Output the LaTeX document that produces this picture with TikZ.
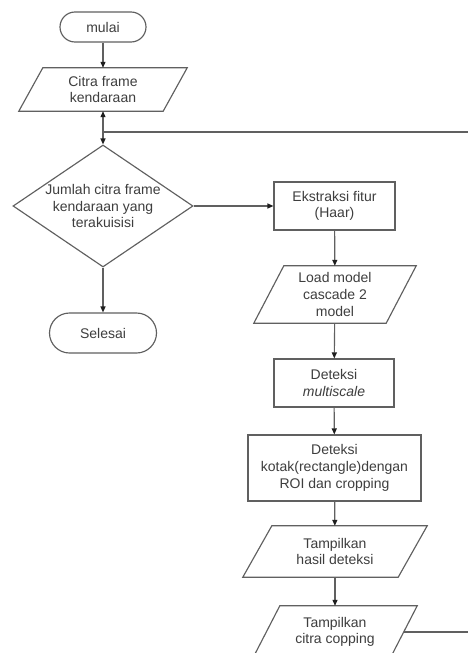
\documentclass[tikz,border=0pt]{standalone}
\usepackage{fontspec}
\setmainfont{Liberation Sans}
\usetikzlibrary{shapes.geometric,arrows.meta,calc}
\definecolor{linec}{HTML}{606060}
\definecolor{textc}{HTML}{3E3E3E}
\definecolor{tipc}{HTML}{1E1E1E}
\newcommand{\parashape}[2]{\draw[conn] ([xshift=#2]#1.north west) -- (#1.north east) -- ([xshift=-#2]#1.south east) -- (#1.south west) -- cycle;}
\begin{document}
\begin{tikzpicture}[x=1pt,y=-1pt,
  every node/.style={font=\fontsize{14}{16.7}\selectfont, text=textc, align=center},
  box/.style={draw=linec, line width=1.15pt, rectangle, inner sep=0pt},
  term/.style={box, rounded corners=#1},
  io/.style={rectangle, inner sep=0pt},
  conn/.style={draw=linec, line width=1.15pt},
  arr/.style={conn, -{Triangle[length=6pt,width=5pt,color=tipc]}}
]
\useasboundingbox (0,0) rectangle (468,653);
\fill[white] (0,0) rectangle (468,653);

\node[term=15pt, minimum width=86pt, minimum height=30pt] (mulai) at (103,27) {mulai};
\node[io, minimum width=168pt, minimum height=43pt] (citra) at (103,89.5) {Citra frame\\kendaraan};
\parashape{citra}{24pt}
\coordinate (J) at (103,132);
\node[draw=linec, line width=1.15pt, diamond, minimum width=180pt, minimum height=122pt, inner sep=0pt] (dia) at (103,206) {};
\node (diat) at (dia.center) {Jumlah citra frame\\kendaraan yang\\terakuisisi};
\node[term=20pt, minimum width=107pt, minimum height=40pt] (sel) at (103,333) {Selesai};

\node[box, minimum width=121pt, minimum height=48pt] (ek) at (334.5,206) {Ekstraksi fitur\\(Haar)};
\node[io, minimum width=162pt, minimum height=57pt] (load) at (335,294.5) {Load model\\cascade 2\\model};
\parashape{load}{30pt}
\node[box, minimum width=120pt, minimum height=48pt] (multi) at (334,383) {Deteksi\\\textit{multiscale}};
\node[box, minimum width=173pt, minimum height=66pt] (kotak) at (334.5,468) {Deteksi\\kotak(rectangle)dengan\\ROI dan cropping};
\node[io, minimum width=184pt, minimum height=51pt] (hasil) at (335,551.5) {Tampilkan\\hasil deteksi};
\parashape{hasil}{29pt}
\node[io, minimum width=164pt, minimum height=52pt] (crop) at (335,632) {Tampilkan\\citra copping};
\parashape{crop}{27pt}

\coordinate (RT) at (468,132);
\coordinate (CE) at ($(crop.north east)!0.5!([xshift=-27pt]crop.south east)$);
\coordinate (RB) at (CE -| RT);

\draw[arr] (mulai) -- (citra);
\draw[arr] (J) -- (citra.south);
\draw[arr] (J) -- (dia.north);
\draw[conn] (RT) -- (J);
\draw[arr] (dia.south) -- (sel);
\draw[arr] (dia.east) -- (ek.west);
\draw[arr] (ek) -- (load);
\draw[arr] (load) -- (multi);
\draw[arr] (multi) -- (kotak);
\draw[arr] (kotak) -- (hasil);
\draw[arr] (hasil) -- (crop);
\draw[conn] (CE) -- (RB);
\end{tikzpicture}
\end{document}
